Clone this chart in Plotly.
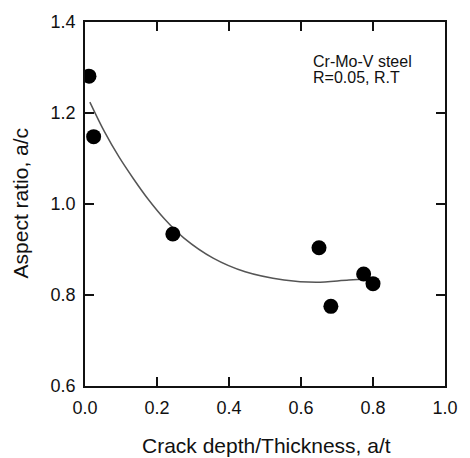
import plotly.graph_objects as go

# Measured crack shapes: crack depth ratio a/t vs aspect ratio a/c
depth_ratio = [0.011, 0.024, 0.244, 0.650, 0.683, 0.774, 0.800]
aspect_ratio = [1.281, 1.148, 0.934, 0.904, 0.775, 0.846, 0.825]

# Trend curve through the measurements
trend_x = [0.0135, 0.054, 0.094, 0.135, 0.175, 0.221, 0.275, 0.356, 0.445, 0.553, 0.642, 0.733, 0.790]
trend_y = [1.224, 1.159, 1.104, 1.055, 1.011, 0.967, 0.925, 0.881, 0.851, 0.833, 0.828, 0.833, 0.835]

x_ticks = [0.0, 0.2, 0.4, 0.6, 0.8, 1.0]
y_ticks = [0.6, 0.8, 1.0, 1.2, 1.4]

label_lines = ["Cr-Mo-V steel", "R=0.05, R.T"]
label_y = [1.314, 1.277]

FONT = "Liberation Sans, Arial, sans-serif"
INK = "#111111"

fig = go.Figure()

fig.add_trace(go.Scatter(
    x=trend_x, y=trend_y, mode="lines",
    line=dict(color="#555555", width=1.5, shape="spline", smoothing=1.0),
    hoverinfo="skip", showlegend=False,
))

fig.add_trace(go.Scatter(
    x=depth_ratio, y=aspect_ratio, mode="markers",
    marker=dict(color="black", size=15, line=dict(width=0)),
    showlegend=False,
))

axis_common = dict(
    showline=True, linecolor=INK, linewidth=1.8, mirror="ticks",
    ticks="inside", ticklen=9, tickwidth=1.5, tickcolor=INK,
    showgrid=False, zeroline=False,
    tickfont=dict(family=FONT, size=18, color=INK),
    tickformat=".1f",
)

fig.update_xaxes(range=[0, 1.0], tickvals=x_ticks, ticklabelstandoff=4, **axis_common)
fig.update_yaxes(range=[0.6, 1.4], tickvals=y_ticks, ticklabelstandoff=4, **axis_common)

# Axis titles
fig.add_annotation(
    text="Crack depth/Thickness, a/t", xref="paper", yref="paper",
    x=0.505, y=-0.163, xanchor="center", yanchor="middle", showarrow=False,
    font=dict(family=FONT, size=21, color=INK),
)
fig.add_annotation(
    text="Aspect ratio, a/c", xref="paper", yref="paper",
    x=-0.18, y=0.502, xanchor="center", yanchor="middle", textangle=-90,
    showarrow=False, font=dict(family=FONT, size=21, color=INK),
)

# Material / test condition label
for line, yv in zip(label_lines, label_y):
    fig.add_annotation(
        text=line, x=0.631, y=yv, xanchor="left", yanchor="middle",
        showarrow=False, borderpad=0,
        font=dict(family=FONT, size=16, color=INK),
    )

fig.update_layout(
    width=470, height=458,
    margin=dict(l=85, r=14, t=17.5, b=72),
    paper_bgcolor="white", plot_bgcolor="white",
)

fig.write_html("out.html")
